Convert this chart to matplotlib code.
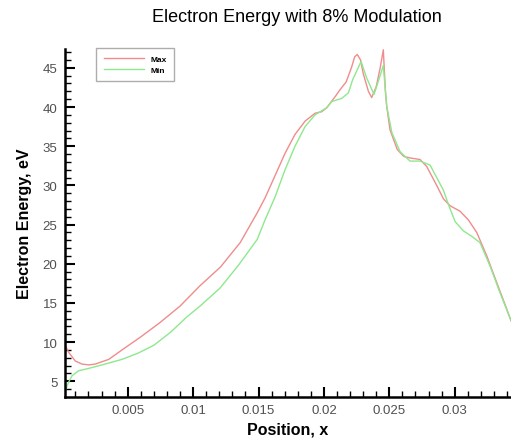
import matplotlib
matplotlib.use("Agg")
import matplotlib.pyplot as plt
from matplotlib.ticker import MultipleLocator

plt.rcParams['font.family'] = ['Liberation Sans', 'DejaVu Sans']

# Data
x_max = [0.00012, 0.00049, 0.00099, 0.00151, 0.00202, 0.00252, 0.00355, 0.00456,
         0.00594, 0.00747, 0.00900, 0.01053, 0.0121, 0.0136, 0.0149, 0.0155, 0.0162,
         0.01703, 0.01779, 0.01856, 0.01932, 0.01983, 0.02021, 0.02085, 0.02123,
         0.0217, 0.0221, 0.02235, 0.02255, 0.0228, 0.0230, 0.0234, 0.02365, 0.0240,
         0.0243, 0.02454, 0.0247, 0.0248, 0.02505, 0.0256, 0.0261, 0.02658, 0.02735,
         0.02786, 0.02862, 0.02913, 0.02964, 0.03041, 0.03104, 0.03168, 0.03245,
         0.03321, 0.03398, 0.03431]
y_max = [10.0, 8.7, 7.6, 7.2, 7.1, 7.2, 7.8, 9.0,
         10.6, 12.5, 14.6, 17.2, 19.6, 22.7, 26.5, 28.4, 31.0,
         34.1, 36.5, 38.2, 39.2, 39.4, 39.9, 41.3, 42.2,
         43.2, 45.0, 46.4, 46.7, 46.0, 44.3, 42.0, 41.2, 42.6,
         45.0, 47.3, 42.0, 40.1, 37.1, 34.6, 33.7, 33.5, 33.3,
         32.4, 30.0, 28.3, 27.4, 26.7, 25.6, 24.0, 21.0,
         17.6, 14.2, 12.7]

x_min = [0.00012, 0.00023, 0.00049, 0.00074, 0.00125, 0.00202, 0.00304, 0.00456,
         0.0058, 0.0070, 0.0083, 0.00951, 0.01053, 0.01206, 0.01346, 0.0149, 0.0155,
         0.01626, 0.01703, 0.01779, 0.01856, 0.01932, 0.02021, 0.0206, 0.02136,
         0.02187, 0.0222, 0.02284, 0.02327, 0.02383, 0.0242, 0.02454, 0.0248, 0.0252,
         0.02582, 0.02658, 0.02735, 0.02811, 0.02862, 0.02913, 0.02951, 0.03002,
         0.03066, 0.0313, 0.03193, 0.0327, 0.03346, 0.03431]
y_min = [3.0, 3.8, 4.9, 5.7, 6.35, 6.65, 7.1, 7.8,
         8.6, 9.6, 11.3, 13.2, 14.6, 16.9, 19.8, 23.1, 25.6,
         28.5, 32.0, 35.0, 37.5, 39.0, 39.9, 40.7, 41.1,
         41.8, 43.5, 45.8, 43.7, 41.6, 43.5, 45.3, 40.1, 36.7,
         34.3, 33.1, 33.1, 32.6, 31.0, 29.4, 27.6, 25.4,
         24.2, 23.5, 22.7, 19.7, 16.3, 12.7]

series_labels = ["Max", "Min"]
series_colors = ["#f08c8c", "#8ee88e"]

fig = plt.figure(figsize=(5.11, 4.39), dpi=100)
ax = fig.add_axes([64.5/511, 1-397.7/439, 1-64.5/511, (397.7-50)/439])

ax.plot(x_max, y_max, color=series_colors[0], lw=1.0, label=series_labels[0])
ax.plot(x_min, y_min, color=series_colors[1], lw=1.0, label=series_labels[1])

ax.set_xlim(0.00017, 0.0343)
ax.set_ylim(3.04, 47.4)

ax.xaxis.set_minor_locator(MultipleLocator(0.001))
ax.yaxis.set_major_locator(MultipleLocator(5))
ax.yaxis.set_minor_locator(MultipleLocator(1))
ax.set_xticks([0.005, 0.01, 0.015, 0.02, 0.025, 0.03])
ax.set_xticklabels(["0.005", "0.01", "0.015", "0.02", "0.025", "0.03"])

for s in ['top', 'right']:
    ax.spines[s].set_visible(False)
for s in ['left', 'bottom']:
    ax.spines[s].set_linewidth(1.8)
    ax.spines[s].set_color('black')

ax.tick_params(which='major', direction='in', length=7, width=1.5, labelsize=9.5,
               labelcolor='#505050', pad=5)
ax.tick_params(which='minor', direction='in', length=4, width=1.0)

ax.set_xlabel("Position, x", fontsize=11.5, fontweight='bold', labelpad=4)
ax.set_ylabel("Electron Energy, eV", fontsize=11.5, fontweight='bold', labelpad=8)
fig.text(0.58, 1-18/439, "Electron Energy with 8% Modulation", fontsize=13,
         ha='center', va='center')

leg = ax.legend(loc='upper left', bbox_to_anchor=(96/511, 1-49/439),
                bbox_transform=fig.transFigure,
                prop={'weight': 'bold', 'size': 6}, fancybox=False,
                frameon=True, edgecolor='#999999', handlelength=4.8,
                handletextpad=0.8, labelspacing=0.3, borderpad=0.9,
                borderaxespad=0)
leg.get_frame().set_linewidth(1.0)

fig.savefig("out.png", dpi=100)
